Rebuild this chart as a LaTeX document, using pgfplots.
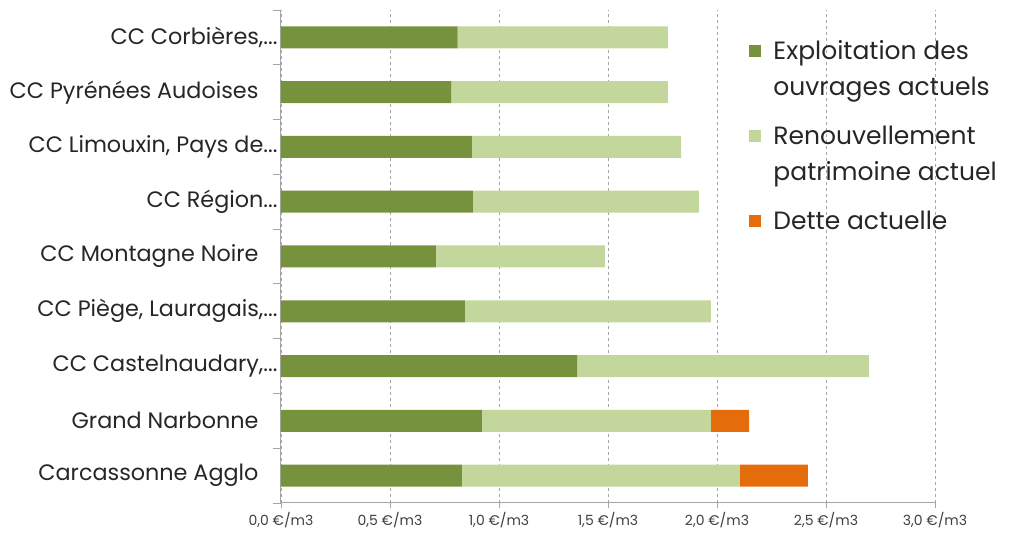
\documentclass[border=0pt]{standalone}
\usepackage{pgfplots}
\pgfplotsset{compat=1.18}
\usepackage{fontspec}
\setmainfont{Poppins}
\newcommand\el{...}
\newcommand\trsp{\kern19pt\relax}
\definecolor{dg}{HTML}{76923C}
\definecolor{lg}{HTML}{C3D69B}
\definecolor{og}{HTML}{E46C0A}
\definecolor{ax}{HTML}{A6A6A6}
\begin{document}
\begin{tikzpicture}[x=1pt,y=1pt]
\path (-281,-42) rectangle (732,503);
\begin{axis}[
  at={(0,0)}, anchor=south west,
  scale only axis, width=654pt, height=493pt,
  xbar stacked, bar width=22pt,
  xmin=0, xmax=3, ymin=-0.5, ymax=8.5,
  axis x line*=bottom, axis y line*=left,
  axis line style={ax, line width=1pt},
  xtick={0,0.5,1,1.5,2,2.5,3},
  xticklabels={{0,0 €/m3},{0,5 €/m3},{1,0 €/m3},{1,5 €/m3},{2,0 €/m3},{2,5 €/m3},{3,0 €/m3}},
  x tick label style={font=\fontsize{14}{16}\selectfont\color{black!75}, yshift=-1pt},
  xmajorgrids, major grid style={ax, dashed, line width=0.8pt},
  major x tick style={ax, line width=0.8pt},
  major tick length=5pt,
  ytick={0,1,2,3,4,5,6,7,8},
  yticklabels={Carcassonne Agglo\trsp, Grand Narbonne\trsp, {CC Castelnaudary,\el}, {CC Piège, Lauragais,\el}, CC Montagne Noire\trsp, {CC Région\el}, {CC Limouxin, Pays de\el}, CC Pyrénées Audoises\trsp, {CC Corbières,\el}},
  y tick label style={font=\fontsize{22.3}{25}\selectfont\color{black!85}, xshift=5pt},
  major y tick style={draw=none},
  minor ytick={-0.5,0.5,1.5,2.5,3.5,4.5,5.5,6.5,7.5,8.5},
  minor y tick style={ax, line width=0.8pt},
  minor tick length=8pt,
  tick align=outside,
  legend style={at={(0.716,0.942)}, anchor=north west, draw=none, fill=none, inner sep=0pt,
    font=\fontsize{25}{36}\selectfont\color{black!85}, row sep=25pt, column sep=10pt,
    nodes={align=left, inner sep=2pt}},
  legend cell align=left,
  clip=false,
]
\addplot[fill=dg, draw=none, legend image code/.code={\fill[dg] (0pt,12pt) rectangle (12pt,24pt);}] coordinates {(0.83,0) (0.922,1) (1.358,2) (0.844,3) (0.71,4) (0.88,5) (0.876,6) (0.78,7) (0.81,8)};
\addplot[fill=lg, draw=none, legend image code/.code={\fill[lg] (0pt,12pt) rectangle (12pt,24pt);}] coordinates {(1.275,0) (1.05,1) (1.339,2) (1.128,3) (0.776,4) (1.037,5) (0.959,6) (0.995,7) (0.965,8)};
\addplot[fill=og, draw=none, legend image code/.code={\fill[og] (0pt,-6pt) rectangle (12pt,6pt);}] coordinates {(0.312,0) (0.175,1) (0,2) (0,3) (0,4) (0,5) (0,6) (0,7) (0,8)};
\legend{{Exploitation des\\ouvrages actuels},{Renouvellement\\patrimoine actuel},Dette actuelle}
\end{axis}
\end{tikzpicture}
\end{document}
